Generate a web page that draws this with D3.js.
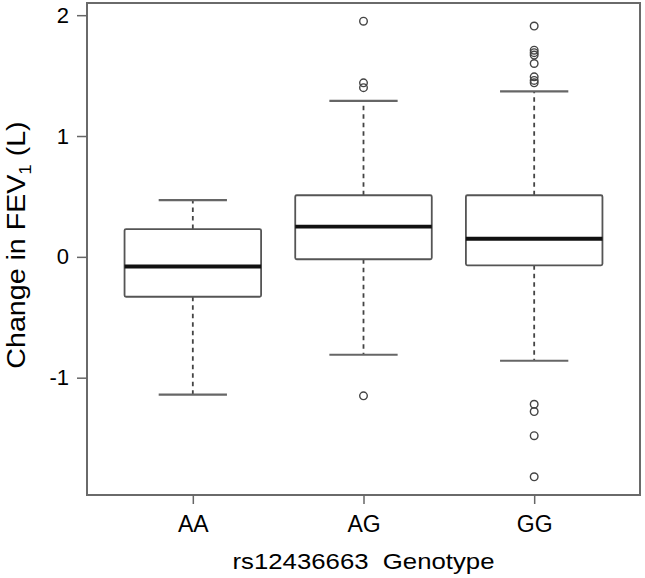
<!DOCTYPE html>
<html>
<head>
<meta charset="utf-8">
<script src="https://cdn.jsdelivr.net/npm/d3@7"></script>
<style>
  html, body { margin: 0; padding: 0; background: #fff; }
  text { font-family: "Liberation Sans", Arial, sans-serif; fill: #000; }
</style>
</head>
<body>
<div id="chart"></div>
<script>
// box plot summary per genotype
var genotypes = ['AA', 'AG', 'GG']
var whiskerLow = [-1.14, -0.81, -0.86]
var q1 = [-0.33, -0.02, -0.07]
var medians = [-0.08, 0.25, 0.15]
var q3 = [0.23, 0.51, 0.51]
var whiskerHigh = [0.47, 1.29, 1.37]
var outliersAA = []
var outliersAG = [1.95, 1.44, 1.40, -1.15]
var outliersGG = [1.91, 1.71, 1.69, 1.67, 1.60, 1.49, 1.46, 1.44, -1.22, -1.28, -1.48, -1.82]
var yTicks = [-1, 0, 1, 2]

var outliers = [outliersAA, outliersAG, outliersGG]

const width = 645
const height = 578
const plot = { left: 87, right: 640, top: 3, bottom: 495 }

var svg = d3.select('#chart')
  .append('svg')
  .attr('width', width)
  .attr('height', height)

// R style limits: categories at 1..n, data range padded by 4%
var xLo = 0.5, xHi = genotypes.length + 0.5
var xPad = (xHi - xLo) * 0.04
var x = d3.scaleLinear()
  .domain([xLo - xPad, xHi + xPad])
  .range([plot.left, plot.right])

var allVals = whiskerLow.concat(whiskerHigh, outliersAA, outliersAG, outliersGG)
var yMin = d3.min(allVals), yMax = d3.max(allVals)
var yPad = (yMax - yMin) * 0.04
var y = d3.scaleLinear()
  .domain([yMin - yPad, yMax + yPad])
  .range([plot.bottom, plot.top])

var boxHalf = 0.4
var capHalf = 0.2

var rows = genotypes.map(function (g, i) {
  return { g: g, pos: i + 1, lo: whiskerLow[i], q1: q1[i], med: medians[i], q3: q3[i], hi: whiskerHigh[i], out: outliers[i] }
})

var boxes = svg.append('g')

// dashed whiskers
boxes.selectAll('.whisker-lo')
  .data(rows).enter().append('line')
  .attr('x1', d => x(d.pos)).attr('x2', d => x(d.pos))
  .attr('y1', d => y(d.q1)).attr('y2', d => y(d.lo))
  .attr('stroke', '#444').attr('stroke-width', 1.8).attr('stroke-dasharray', '4.5,4')
boxes.selectAll('.whisker-hi')
  .data(rows).enter().append('line')
  .attr('x1', d => x(d.pos)).attr('x2', d => x(d.pos))
  .attr('y1', d => y(d.q3)).attr('y2', d => y(d.hi))
  .attr('stroke', '#444').attr('stroke-width', 1.8).attr('stroke-dasharray', '4.5,4')

// whisker caps
;['lo', 'hi'].forEach(function (k) {
  boxes.selectAll('.cap-' + k)
    .data(rows).enter().append('line')
    .attr('x1', d => x(d.pos - capHalf)).attr('x2', d => x(d.pos + capHalf))
    .attr('y1', d => y(d[k])).attr('y2', d => y(d[k]))
    .attr('stroke', '#666').attr('stroke-width', 2.2)
})

// boxes
boxes.selectAll('.box')
  .data(rows).enter().append('rect')
  .attr('x', d => x(d.pos - boxHalf))
  .attr('width', d => x(d.pos + boxHalf) - x(d.pos - boxHalf))
  .attr('y', d => y(d.q3))
  .attr('height', d => y(d.q1) - y(d.q3))
  .attr('rx', 1.5)
  .attr('fill', 'none').attr('stroke', '#555').attr('stroke-width', 1.8)

// medians
boxes.selectAll('.median')
  .data(rows).enter().append('line')
  .attr('x1', d => x(d.pos - boxHalf)).attr('x2', d => x(d.pos + boxHalf))
  .attr('y1', d => y(d.med)).attr('y2', d => y(d.med))
  .attr('stroke', '#111').attr('stroke-width', 3.8)

// outliers
var outPts = []
rows.forEach(function (d) {
  d.out.forEach(function (v) { outPts.push({ pos: d.pos, v: v }) })
})
boxes.selectAll('.outlier')
  .data(outPts).enter().append('circle')
  .attr('cx', d => x(d.pos)).attr('cy', d => y(d.v))
  .attr('r', 3.8)
  .attr('fill', 'none').attr('stroke', '#444').attr('stroke-width', 1.4)

// frame
svg.append('rect')
  .attr('x', plot.left).attr('y', plot.top)
  .attr('width', plot.right - plot.left).attr('height', plot.bottom - plot.top)
  .attr('fill', 'none').attr('stroke', '#6a6a6a').attr('stroke-width', 2)

// y axis (plain hyphen for negatives, like R)
var yAxis = svg.append('g')
  .attr('transform', 'translate(' + plot.left + ',0)')
  .call(d3.axisLeft(y).tickValues(yTicks).tickSize(10).tickPadding(8).tickFormat(d => String(d)))
yAxis.select('.domain').remove()
yAxis.selectAll('line').attr('stroke', '#666').attr('stroke-width', 1.5)
yAxis.selectAll('text').attr('font-size', 22).attr('fill', '#000')
  .attr('font-family', '"Liberation Sans", Arial, sans-serif')

// x axis
var xAxis = svg.append('g')
  .attr('transform', 'translate(0,' + plot.bottom + ')')
  .call(d3.axisBottom(x).tickValues(rows.map(d => d.pos)).tickSize(9).tickPadding(12)
    .tickFormat(function (p) { return genotypes[p - 1] }))
xAxis.select('.domain').remove()
xAxis.selectAll('line').attr('stroke', '#666').attr('stroke-width', 1.5)
xAxis.selectAll('text').attr('font-size', 23).attr('fill', '#000')
  .attr('font-family', '"Liberation Sans", Arial, sans-serif')

// axis titles (glyphs look wide in the original, so stretch along the text)
svg.append('text')
  .attr('transform', 'translate(' + ((plot.left + plot.right) / 2) + ',569) scale(1.12,1)')
  .attr('text-anchor', 'middle')
  .attr('font-size', 23)
  .text('rs12436663  Genotype')
  .style('white-space', 'pre')

var yTitle = svg.append('text')
  .attr('transform', 'translate(25,' + ((plot.top + plot.bottom) / 2 - 4) + ') rotate(-90) scale(1.1,1)')
  .attr('text-anchor', 'middle')
  .attr('font-size', 26)
yTitle.append('tspan').text('Change in FEV')
yTitle.append('tspan').attr('font-size', 17).attr('dy', 6).text('1')
yTitle.append('tspan').attr('dy', -6).text(' (L)')
</script>
</body>
</html>
